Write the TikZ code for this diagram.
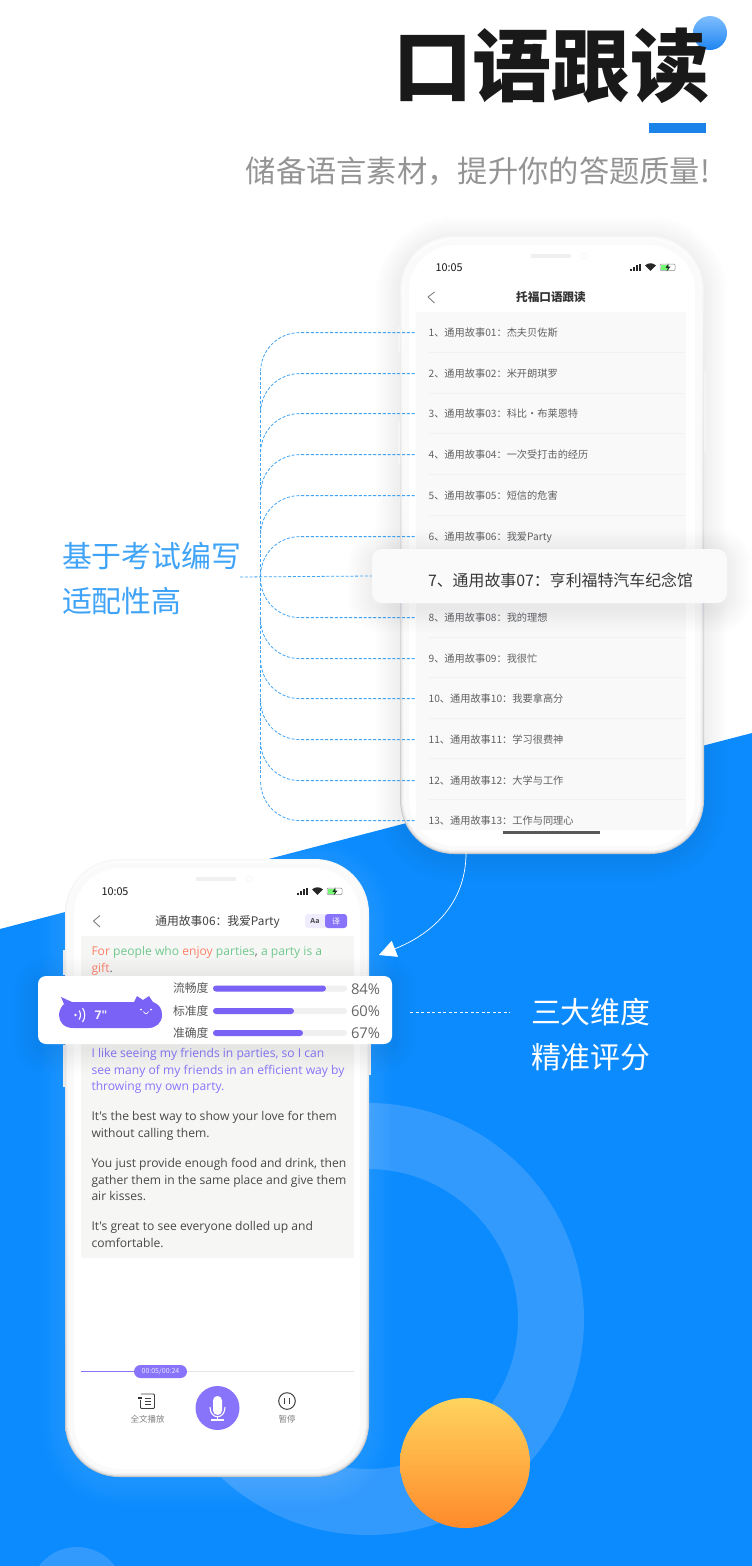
\documentclass[tikz,border=0pt]{standalone}
\usepackage{fontspec}
\setmainfont{Noto Sans CJK SC}
\newfontfamily\latinfont{Open Sans}
\usetikzlibrary{arrows.meta,calc}
\definecolor{bgblue}{HTML}{0B8BFE}
\definecolor{ringblue}{HTML}{329AFD}
\definecolor{linkblue}{HTML}{3FA3F7}
\definecolor{violet}{HTML}{7A62F6}
\definecolor{softviolet}{HTML}{8874FB}
\definecolor{redword}{HTML}{FF7F68}
\definecolor{greenword}{HTML}{70C88E}
\definecolor{shadowgrey}{HTML}{5C6C90}
\definecolor{storypanel}{HTML}{F6F7F5}
\newcommand{\setpx}[1]{\fontsize{#1}{#1}\selectfont}
\newcommand{\softbox}[6]{%
  \foreach \s in {3,6,...,24}
    \fill [#6,opacity=.012,rounded corners=#5+\s] (#1-\s,#2-\s+5) rectangle (#3+\s,#4+\s+5);
}
\newcommand{\phoneshell}[3]{%
  \fill [#3] (#1-2,#2+91) rectangle (#1+2,#2+116);
  \fill [#3] (#1-2,#2+186) rectangle (#1+2,#2+228);
  \fill [#3] (#1+301,#2+136) rectangle (#1+306,#2+216);
  \shade [top color=black!3,bottom color=black!22,rounded corners=54] (#1,#2) rectangle (#1+304,#2+618);
  \foreach \d in {1,2,3,4,5}
    \fill [white,opacity=.45,rounded corners=54-\d] (#1+\d,#2+\d) rectangle (#1+304-\d,#2+618-\d);
  \fill [black!2,rounded corners=50] (#1+4,#2+4) rectangle (#1+300,#2+613);
  \fill [white,rounded corners=46] (#1+9,#2+9) rectangle (#1+295,#2+610);
  \fill [black!6] (#1+131,#2+18) rectangle (#1+171,#2+22);
  \draw [black!6] (#1+184,#2+20) circle [radius=3];
}
\newcommand{\statusicons}[2]{%
  \foreach \k in {0,1,2,3}
    \fill [black!85] (#1+\k*2.9,#2+3.5) rectangle (#1+\k*2.9+2.1,#2+1.5-\k*1.6);
  \fill [black!85] (#1+20.5,#2+3.8) -- (#1+15,#2-1.5) .. controls (#1+18,#2-4.5) and (#1+23,#2-4.5) .. (#1+26,#2-1.5) -- cycle;
  \draw [black!45,line width=.5,rounded corners=1] (#1+30,#2-3) rectangle (#1+45,#2+3.5);
  \fill [green!55!white] (#1+30.5,#2-2.5) rectangle (#1+39,#2+3);
  \fill [black!85] (#1+38.5,#2-3.5) -- (#1+35.5,#2+.8) -- (#1+38,#2+.8) -- (#1+36.5,#2+4.5) -- (#1+40.5,#2-.3) -- (#1+38,#2-.3) -- cycle;
}
\tikzset{
  txt/.style={inner sep=0pt,outer sep=0pt,text height=.88*#1pt,text depth=.12*#1pt},
  rowtext/.style={txt=10.2,anchor=west,text=black!62,font=\setpx{10.2}},
  storyline/.style={txt=12.1,anchor=west,font=\latinfont\setpx{12.1}},
  scorelabel/.style={txt=11.8,anchor=west,text=black!65,font=\setpx{11.8}},
  scorevalue/.style={txt=14.8,anchor=west,text=black!60,font=\latinfont\setpx{14.8}},
  bigblue/.style={txt=29.9,anchor=west,text=linkblue,font=\setpx{29.9}},
  bigwhite/.style={txt=29.9,anchor=west,text=white,font=\setpx{29.9}},
  dashlink/.style={linkblue,line width=.8pt,dash pattern=on 3pt off 1.8pt},
  cardbox/.style={inner sep=0pt,outer sep=0pt,rounded corners=10pt},
  chevron/.style={black!50,line width=.9pt,line join=round}
}
\begin{document}
\begin{tikzpicture}[x=1pt,y=-1pt]
  \useasboundingbox (0,0) rectangle (752,1566);
  \fill [white] (0,0) rectangle (752,1566);
  \fill [bgblue] (0,929)--(752,733)--(752,1566)--(0,1566)--cycle;
  \fill [ringblue,even odd rule] (368,1319) circle [radius=216] (368,1319) circle [radius=150];
  \fill [ringblue] (77,1594.5) circle [radius=47.5];

  \definecolor{dottop}{HTML}{7FBEFF}
  \definecolor{dotend}{HTML}{1E85F0}
  \shade [top color=dottop,bottom color=dotend] (710,33) circle [radius=17];
  \node (title) [txt=79,anchor=east,text=black!90,font=\bfseries\setpx{79}] at (709.5,65) {口语跟读};
  \definecolor{barblue}{HTML}{1A82E8}
  \fill [barblue] (649,123) rectangle (706,133);
  \node (subtitle) [txt=30.3,anchor=east,text=black!42,font=\setpx{30.3}] at (710,171) {储备语言素材，提升你的答题质量!};

  \softbox{400}{236}{703}{853}{54}{shadowgrey}
  \phoneshell{400}{236}{black!4}
  \fill [black!2.5] (416,312) rectangle (686,830);
  \foreach \y in {352,393,433,474,515,556,637,677,718,758,799}
    \draw [black!5] (428,\y)--(686,\y);
  \node (clockA) [txt=10.8,text=black!90,font=\setpx{10.8}] at (449,267) {10:05};
  \statusicons{630}{267}
  \draw [chevron] (434.5,292)--(428,297)--(434.5,303);
  \node (headerA) [txt=11.6,text=black!80,font=\bfseries\setpx{11.6}] at (551,297) {托福口语跟读};
  \fill [black!65] (503,831) rectangle (600,834);

  \coordinate (hub) at (260.6,577);
  \coordinate (hubstart) at (240,577);
  \foreach \i/\n/\y/\t/\s in {1/01/332.6/杰夫贝佐斯/40,2/02/373.6/米开朗琪罗/40,3/03/413.6/科比·布莱恩特/40,4/04/454.6/一次受打击的经历/40,5/05/495.6/短信的危害/40,6/06/536.6/我爱Party/40,8/08/617.6/我的理想/-40,9/09/658.6/我很忙/-40,10/10/698.6/我要拿高分/-40,11/11/739.6/学习很费神/-40,12/12/780.6/大学与工作/-40,13/13/820.6/工作与同理心/-40} {
    \node (row\i) [rowtext] at (428.6,\y) {\i、通用故事\n：\t};
    \draw [dashlink,rounded corners=39pt,shorten <=14pt] (row\i.west) -| ($(row\i.west -| hub)+(0,\s)$);
  }
  \coordinate (trunktop) at (260.6,372);
  \coordinate (trunkend) at (260.6,780);
  \draw [dashlink] (trunktop)--(trunkend);

  \softbox{372}{549}{727}{603}{10}{shadowgrey}
  \node (hlbox) [cardbox,fill=black!2,minimum width=355pt,minimum height=54pt] at (549.5,576) {};
  \node (hltext) [txt=15.9,anchor=west,text=black!78,font=\setpx{15.9}] at (428,580) {7、通用故事07：亨利福特汽车纪念馆};
  \draw [dashlink] (hubstart)--(hlbox.west);
  \node (leftA) [bigblue] at (62,556) {基于考试编写};
  \node (leftB) [bigblue] at (62,601) {适配性高};

  \softbox{65}{859}{369}{1477}{54}{white}
  \phoneshell{65}{859}{white!92!black}
  \fill [storypanel] (81,936) rectangle (354,1258);
  \node (clockB) [txt=10.8,text=black!90,font=\setpx{10.8}] at (115,891) {10:05};
  \statusicons{297}{891}
  \draw [chevron] (100,915.5)--(93.5,921)--(100,927);
  \node (headerB) [txt=11.8,text=black!75,font=\setpx{11.8}] at (217.5,921.5) {通用故事06：我爱Party};
  \fill [violet!12,rounded corners=3] (305,914) rectangle (347,928);
  \fill [softviolet,rounded corners=3] (325,914) rectangle (347,928);
  \node (fontkey) [txt=7,text=black!70,font=\bfseries\latinfont\setpx{7}] at (315,921) {Aa};
  \node (transkey) [txt=8,text=white,font=\setpx{8}] at (336,921) {译};

  \node (lineA) [storyline] at (91.5,951) {\textcolor{redword}{For} \textcolor{greenword}{people who} \textcolor{redword}{enjoy} \textcolor{greenword}{parties}\textcolor{black!60}{,} \textcolor{greenword}{a party is a}};
  \node (lineB) [storyline] at (91.5,967.5) {\textcolor{redword}{gift}\textcolor{black!60}{.}};
  \foreach \k/\y/\t in {C/1053/I like seeing my friends in parties{,} so I can,D/1069.5/see many of my friends in an efficient way by,E/1086/throwing my own party.}
    \node (line\k) [storyline,text=softviolet] at (91.5,\y) {\t};
  \foreach \k/\y/\t in {F/1116/It's the best way to show your love for them,G/1133/without calling them.,H/1163/You just provide enough food and drink{,} then,I/1180/gather them in the same place and give them,J/1196/air kisses.,K/1226/It's great to see everyone dolled up and,L/1243/comfortable.}
    \node (line\k) [storyline,text=black!72] at (91.5,\y) {\t};

  \softbox{38}{976}{392}{1044}{8}{shadowgrey}
  \fill [white,rounded corners=8] (38,976) rectangle (392,1044);
  \fill [violet] (61,997)--(72,1002)--(134,1002)--(137,996)--(143,1000)--(149,996)--(153,1002)
    .. controls (160,1005) and (162,1009) .. (162,1015)
    .. controls (162,1023) and (156,1028) .. (148,1028)--(73,1028)
    .. controls (64,1028) and (59,1022) .. (59,1015)
    .. controls (59,1010) and (62,1006) .. (64,1004)--cycle;
  \fill [white] (75.5,1015) circle [radius=1.4];
  \draw [white,line width=1.1pt] (79,1010.5) .. controls (81,1013) and (81,1017) .. (79,1019.5);
  \draw [white,line width=1.1pt] (82.5,1008) .. controls (85.5,1012) and (85.5,1018) .. (82.5,1022);
  \node (timer) [txt=12,text=white!90!violet,font=\bfseries\latinfont\setpx{12}] at (101,1015) {7"};
  \fill [white] (141,1009.5) circle [radius=1] (151,1009.5) circle [radius=1];
  \draw [white,line width=.7pt] (143.5,1011.5) .. controls (145,1014.5) and (147,1014.5) .. (148.5,1011.5);
  \foreach \k/\y/\t/\e/\v in {a/988.5/流畅度/326/84\%,b/1011/标准度/294/60\%,c/1033/准确度/303/67\%} {
    \node (score\k) [scorelabel] at (173,\y) {\t};
    \fill [black!6,rounded corners=3] (213,\y-3) rectangle (347,\y+3);
    \fill [violet,rounded corners=3] (213,\y-3) rectangle (\e,\y+3);
    \node (value\k) [scorevalue] at (351,\y) {\v};
  }

  \coordinate (scorefrom) at (410,1012);
  \coordinate (scoreto) at (510,1012);
  \draw [white,line width=.6pt,dash pattern=on 3pt off 2.5pt] (scorefrom)--(scoreto);
  \node (rightA) [bigwhite] at (531,1012) {三大维度};
  \node (rightB) [bigwhite] at (531,1057) {精准评分};

  \coordinate (curvefrom) at (466,853);
  \coordinate (curveto) at (379,955);
  \draw [-{Triangle[length=17pt,width=17pt,fill=white]},white,line width=.7pt] (curvefrom) .. controls (466,905) and (430,935) .. (curveto);

  \draw [black!10] (81,1371.5)--(354,1371.5);
  \draw [softviolet] (81,1371.5)--(140,1371.5);
  \node (playtime) [cardbox,rounded corners=6.5pt,fill=softviolet,minimum width=53pt,minimum height=13pt,text=white!85!violet,font=\setpx{7}] at (160.5,1371.5) {00:05/00:24};
  \draw [black!75,line width=.9pt,rounded corners=1] (141,1394)--(154.5,1394)--(154.5,1408.5)--(140.5,1408.5)--(140.5,1400);
  \fill [black!80] (138,1396.5) rectangle (142,1398.5);
  \draw [black!75,line width=.7pt] (145,1398.5)--(151,1398.5) (145,1401.5)--(151,1401.5) (145,1404.5)--(151,1404.5);
  \node (fulltext) [txt=8.5,text=black!50,font=\setpx{8.5}] at (147.5,1419) {全文播放};
  \fill [softviolet] (217.5,1408) circle [radius=22];
  \fill [white,rounded corners=4.5] (213,1396) rectangle (222,1415);
  \draw [white,line width=1.1pt] (210,1407) .. controls (210,1420) and (225,1420) .. (225,1407);
  \draw [white,line width=1.1pt] (217.5,1416)--(217.5,1420) (211,1420)--(224,1420);
  \draw [black!75,line width=1pt] (287,1401) circle [radius=8.3];
  \draw [black!75,line width=1.2pt] (284.5,1398)--(284.5,1404) (289.5,1398)--(289.5,1404);
  \node (pausetext) [txt=8.5,text=black!50,font=\setpx{8.5}] at (287,1419) {暂停};

  \definecolor{suntop}{HTML}{FFD45E}
  \definecolor{sunend}{HTML}{FF8A2A}
  \shade [top color=suntop,bottom color=sunend] (465,1463) circle [radius=65];
\end{tikzpicture}
\end{document}
